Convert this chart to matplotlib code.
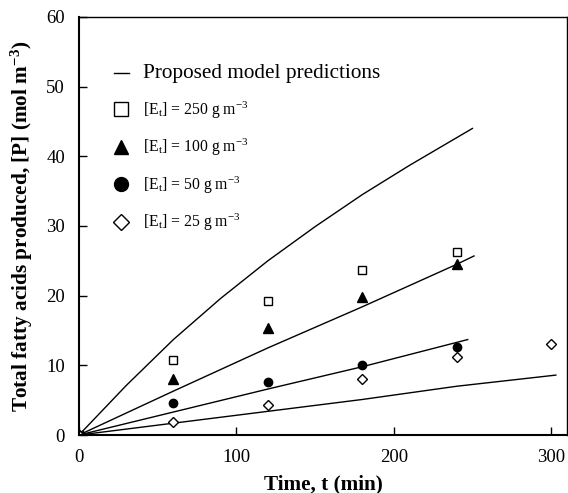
import matplotlib
matplotlib.use("Agg")
import matplotlib.pyplot as plt
from matplotlib.lines import Line2D

plt.rcParams['font.family'] = ['Liberation Serif', 'DejaVu Serif']
plt.rcParams['mathtext.fontset'] = 'custom'
plt.rcParams['mathtext.rm'] = 'Liberation Serif'
plt.rcParams['mathtext.it'] = 'Liberation Serif:italic'
plt.rcParams['mathtext.bf'] = 'Liberation Serif:bold'

# Experimental data
t_exp = [0, 60, 120, 180, 240]
t_exp25 = [0, 60, 120, 180, 240, 300]
p_250 = [0, 10.7, 19.2, 23.7, 26.3]
p_100 = [0, 8.1, 15.3, 19.8, 24.5]
p_50 = [0, 4.6, 7.6, 10.1, 12.6]
p_25 = [0, 1.8, 4.3, 8.0, 11.2, 13.0]

# Model predictions
t_m250 = [0, 30, 60, 90, 120, 150, 180, 210, 250]
m_250 = [0, 7.1, 13.7, 19.6, 25.0, 29.9, 34.5, 38.7, 44.0]
t_m100 = [0, 60, 120, 180, 240, 251]
m_100 = [0, 6.3, 12.5, 18.4, 24.5, 25.7]
t_m50 = [0, 60, 120, 180, 247]
m_50 = [0, 3.3, 6.6, 9.8, 13.7]
t_m25 = [0, 60, 120, 180, 240, 303]
m_25 = [0, 1.7, 3.4, 5.1, 7.0, 8.6]

labels = ['Proposed model predictions',
          r'[E$_\mathrm{t}$] = 250 g m$^{\mathrm{-3}}$',
          r'[E$_\mathrm{t}$] = 100 g m$^{\mathrm{-3}}$',
          r'[E$_\mathrm{t}$] = 50 g m$^{\mathrm{-3}}$',
          r'[E$_\mathrm{t}$] = 25 g m$^{\mathrm{-3}}$']

fig = plt.figure(figsize=(5.68, 4.93), dpi=100)
ax = fig.add_axes([0.139, 0.1176, 0.859, 0.848])

lw = 1.0
for tt, mm in [(t_m250, m_250), (t_m100, m_100), (t_m50, m_50), (t_m25, m_25)]:
    ax.plot(tt, mm, color='black', lw=lw)

ax.plot(t_exp, p_250, ls='none', marker='s', ms=5.5, mfc='white', mec='black', mew=1.0)
ax.plot(t_exp, p_100, ls='none', marker='^', ms=7, mfc='black', mec='black')
ax.plot(t_exp, p_50, ls='none', marker='o', ms=6, mfc='black', mec='black')
ax.plot(t_exp25, p_25, ls='none', marker='D', ms=5, mfc='white', mec='black', mew=1.0)

ax.set_xlim(0, 310)
ax.set_ylim(0, 60)
ax.set_xticks([0, 100, 200, 300])
ax.set_yticks([0, 10, 20, 30, 40, 50, 60])
ax.tick_params(direction='in', length=6, width=1.0, labelsize=13.5)
ax.tick_params(axis='y', pad=10)
ax.tick_params(axis='x', pad=10)
for s in ['left', 'bottom']:
    ax.spines[s].set_linewidth(1.5)
for s in ['top', 'right']:
    ax.spines[s].set_linewidth(1.0)

ax.set_xlabel('Time, t (min)', fontsize=15.3, fontweight='bold', labelpad=6)
ax.set_ylabel(r'Total fatty acids produced, [P] (mol m$^{\mathbf{-3}}$)', fontsize=15.3,
              fontweight='bold', labelpad=8)

handles = [
    Line2D([], [], color='black', lw=1.0),
    Line2D([], [], ls='none', marker='s', ms=10, mfc='white', mec='black', mew=1.0),
    Line2D([], [], ls='none', marker='^', ms=10, mfc='black', mec='black'),
    Line2D([], [], ls='none', marker='o', ms=10, mfc='black', mec='black'),
    Line2D([], [], ls='none', marker='D', ms=8, mfc='white', mec='black', mew=1.0),
]
leg = ax.legend(handles, labels, loc='upper left', bbox_to_anchor=(0.058, 0.902),
                frameon=False, fontsize=11.3, handlelength=1.0, handletextpad=0.85,
                labelspacing=1.03, borderaxespad=0)
leg.get_texts()[0].set_fontsize(15.3)

fig.savefig('out.png', dpi=100)
